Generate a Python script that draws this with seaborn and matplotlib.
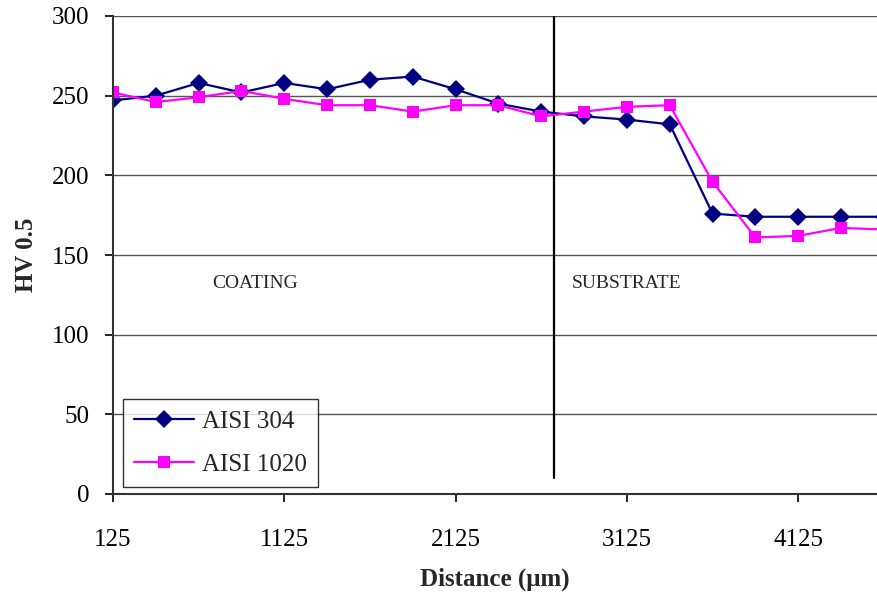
import numpy as np
import pandas as pd
import matplotlib
matplotlib.use("Agg")
import matplotlib.pyplot as plt
import seaborn as sns

distance = [125, 375, 625, 875, 1125, 1375, 1625, 1875, 2125, 2375,
            2625, 2875, 3125, 3375, 3625, 3875, 4125, 4375, 4625]
hv_304 = [247, 250, 258, 252, 258, 254, 260, 262, 254, 245,
          240, 237, 235, 232, 176, 174, 174, 174, 174]
hv_1020 = [252, 246, 249, 253, 248, 244, 244, 240, 244, 244,
           237, 240, 243, 244, 196, 161, 162, 167, 166]

x_ticks = [125, 1125, 2125, 3125, 4125]
y_ticks = [0, 50, 100, 150, 200, 250, 300]

divider_x = 2700
divider_y = (10, 300)
region_labels = ["COATING", "SUBSTRATE"]
region_x = [955, 3125]
region_y = 132

df = pd.DataFrame({
    "Distance": distance * 2,
    "HV": hv_304 + hv_1020,
    "Steel": ["AISI 304"] * len(distance) + ["AISI 1020"] * len(distance),
})

sns.set_style("white")
plt.rcParams["font.family"] = ["Liberation Serif", "DejaVu Serif"]

fig = plt.figure(figsize=(8.77, 5.97), dpi=100)
ax = fig.add_axes([113 / 877, 103 / 597, 764 / 877, 478 / 597])

sns.lineplot(
    data=df, x="Distance", y="HV", hue="Steel", style="Steel",
    palette={"AISI 304": "#000080", "AISI 1020": "#FF00FF"},
    markers={"AISI 304": "D", "AISI 1020": "s"},
    dashes=False, markersize=9, linewidth=1.6, markeredgewidth=0,
    ax=ax, clip_on=True,
)

ax.plot([divider_x, divider_x], list(divider_y), color="black", linewidth=1.6, zorder=1)
for lab, xx in zip(region_labels, region_x):
    ax.text(xx, region_y, lab, ha="center", va="center", fontsize=14)

ax.set_xlim(125, 4585)
ax.set_ylim(0, 300)
ax.set_xticks(x_ticks)
ax.set_yticks(y_ticks)
ax.yaxis.grid(True, color="#555555", linewidth=1)
ax.set_axisbelow(True)
for s in ["top", "right"]:
    ax.spines[s].set_visible(False)
for s in ["left", "bottom"]:
    ax.spines[s].set_color("#333333")
    ax.spines[s].set_linewidth(1.5)
ax.tick_params(axis="both", direction="out", length=6, width=1.2,
               labelsize=18, colors="black", left=True, bottom=True)
ax.tick_params(axis="x", pad=19)
ax.tick_params(axis="y", pad=11)
ax.set_xlabel("Distance (\u03bcm)", fontsize=18, fontweight="bold", labelpad=12)
ax.set_ylabel("HV 0.5", fontsize=18, fontweight="bold", labelpad=10)

leg = ax.legend(loc="lower left", bbox_to_anchor=(0.013, 0.015), borderaxespad=0,
                fontsize=18, frameon=True, fancybox=False, edgecolor="black",
                handlelength=2.4, handletextpad=0.3, labelspacing=0.8,
                borderpad=0.45, title=None)
leg.get_frame().set_linewidth(1)

fig.savefig("out.png", dpi=100)
